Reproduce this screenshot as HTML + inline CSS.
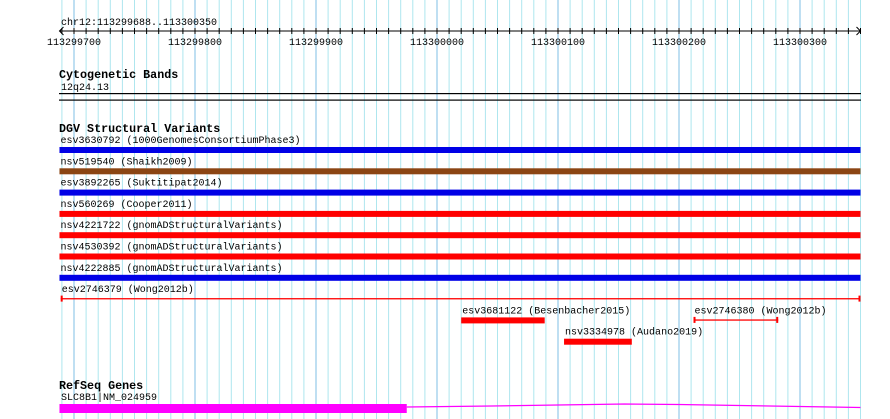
<!DOCTYPE html>
<html><head><meta charset="utf-8"><style>
body{margin:0;background:#fff}
svg{display:block}
text{font-family:"Liberation Mono",monospace;font-size:10px;fill:#000}
.h{font-weight:bold;font-size:11.7px}
</style></head><body>
<svg id="c" width="890" height="419" xmlns="http://www.w3.org/2000/svg">
<g id="grid"></g>
<g id="ruler"></g>
<text x="61" y="25">chr12:113299688..113300350</text>
<text class="h" x="59" y="78">Cytogenetic Bands</text>
<text x="61" y="90">12q24.13</text>
<rect x="59" y="93" width="802" height="1.2" fill="#000"/>
<rect x="59" y="99.5" width="802" height="1.2" fill="#000"/>
<text class="h" x="59" y="132">DGV Structural Variants</text>
<g id="svs"></g>
<text class="h" x="59" y="389">RefSeq Genes</text>
<text x="61" y="400">SLC8B1|NM_024959</text>
<g id="gene"></g>
</svg>
<script>
const startBp=113299688, endBp=113300350;
const tickLabels=[113299700,113299800,113299900,113300000,113300100,113300200,113300300];
const svNames=["esv3630792 (1000GenomesConsortiumPhase3)","nsv519540 (Shaikh2009)","esv3892265 (Suktitipat2014)","nsv560269 (Cooper2011)","nsv4221722 (gnomADStructuralVariants)","nsv4530392 (gnomADStructuralVariants)","nsv4222885 (gnomADStructuralVariants)","esv2746379 (Wong2012b)","esv3681122 (Besenbacher2015)","nsv3334978 (Audano2019)","esv2746380 (Wong2012b)"];
const svStart=[113299688,113299688,113299688,113299688,113299688,113299688,113299688,113299689,113300020,113300105,113300212];
const svEnd=[113300350,113300350,113300350,113300350,113300350,113300350,113300350,113300350,113300089,113300161,113300282];
const svRow=[0,1,2,3,4,5,6,7,8,9,8];
const svColor=["#0000e6","#8b4513","#0000e6","#ff0000","#ff0000","#ff0000","#0000e6","#ff0000","#ff0000","#ff0000","#ff0000"];
const svThin=[0,0,0,0,0,0,0,1,0,0,1];
const exonStart=[113299688], exonEnd=[113299975];
const intronBp=[113299975,113300045,113300100,113300155,113300200,113300250,113300300,113300350];
const intronY=[407,406,405,404,404.5,405.5,406.5,407.5];
const NS="http://www.w3.org/2000/svg";
const X=bp=>74+(bp-113299700)*1.21;
function mk(t,p,a){const e=document.createElementNS(NS,t);for(const k in a)e.setAttribute(k,a[k]);p.appendChild(e);return e;}
const grid=document.getElementById('grid');
for(let bp=113299690;bp<=endBp;bp+=10){
 const l=mk('line',grid,{x1:X(bp),x2:X(bp),y1:0,y2:419,stroke:bp%100==0?'#7fbfe6':'#aee6ee','stroke-width':1});
 
 
}
const ru=document.getElementById('ruler');
const rl=mk('line',ru,{x1:X(startBp),x2:X(endBp),y1:31,y2:31,stroke:'#000'});


mk('path',ru,{d:`M${X(startBp)+4} 27 L${X(startBp)} 31 L${X(startBp)+4} 35`,fill:'none',stroke:'#000'});
mk('path',ru,{d:`M${X(endBp)-4} 27 L${X(endBp)} 31 L${X(endBp)-4} 35`,fill:'none',stroke:'#000'});
for(let bp=113299690;bp<=endBp;bp+=10){
 mk('line',ru,{x1:X(bp),x2:X(bp),y1:28,y2:34,stroke:'#000'});
}
tickLabels.forEach(v=>{
 const t=mk('text',ru,{x:X(v),y:45,'text-anchor':'middle'});t.textContent=v;
 
 
});
const sv=document.getElementById('svs');
svNames.forEach((n,i)=>{
 const y=147+svRow[i]*21.3;
 const x1=X(svStart[i]),x2=X(svEnd[i]);
 const t=mk('text',sv,{x:x1+1,y:y-4});t.textContent=n;
 
 
 let r;
 if(svThin[i]){
  r=mk('g',sv,{});
  mk('rect',r,{x:x1,y:y+2,width:x2-x1,height:1.3,fill:svColor[i]});
  mk('rect',r,{x:x1,y:y-0.5,width:2,height:6,fill:svColor[i]});
  mk('rect',r,{x:x2-2,y:y-0.5,width:2,height:6,fill:svColor[i]});
 } else {
  r=mk('rect',sv,{x:x1,y:y,width:x2-x1,height:6,fill:svColor[i]});
 }
 
 
});
const g=document.getElementById('gene');
exonStart.forEach((s,i)=>{
 const r=mk('rect',g,{x:X(s),y:404,width:X(exonEnd[i])-X(s),height:9,fill:'#ff00ff'});
 
 
});
let d='';intronBp.forEach((b,i)=>{d+=(i?'L':'M')+X(b)+' '+intronY[i]+' ';});
const p=mk('path',g,{d:d,fill:'none',stroke:'#ff00ff','stroke-width':1.2});


</script>
</body></html>
